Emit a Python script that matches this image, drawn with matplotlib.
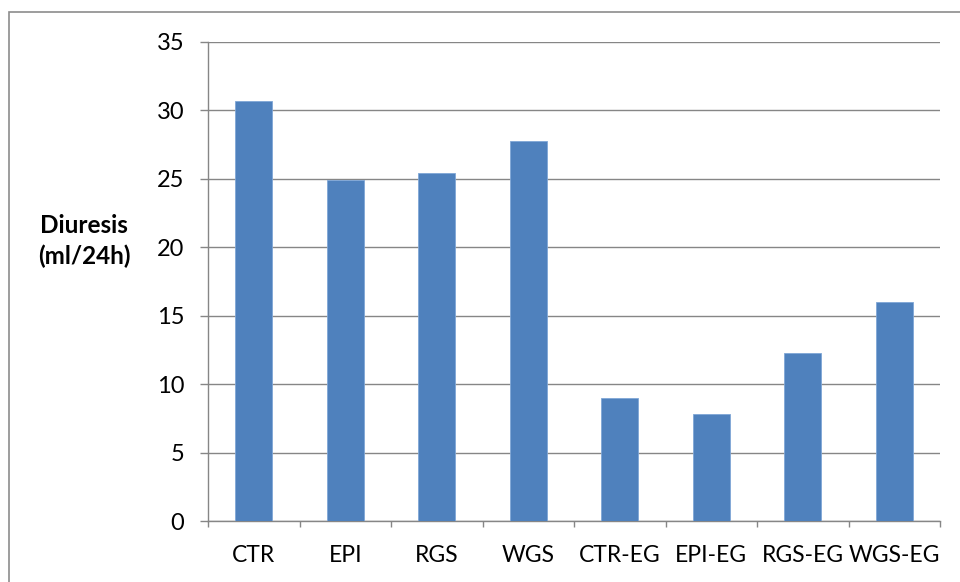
import matplotlib
matplotlib.use("Agg")
import matplotlib.pyplot as plt
from matplotlib.patches import Rectangle

categories = ["CTR", "EPI", "RGS", "WGS", "CTR-EG", "EPI-EG", "RGS-EG", "WGS-EG"]
values = [30.7, 24.9, 25.4, 27.8, 9.0, 7.8, 12.3, 16.0]
yticks = [0, 5, 10, 15, 20, 25, 30, 35]

plt.rcParams['font.family'] = ['Lato', 'DejaVu Sans']

W, H = 960, 582
fig = plt.figure(figsize=(W/100, H/100), dpi=100)
ax = fig.add_axes([208/W, 1-521/H, (940-208)/W, (521-42)/H])

grid_c = "#868686"
x = list(range(len(categories)))
ax.bar(x, values, width=0.4, color="#4F81BD", edgecolor="#7FA6D6", linewidth=0.6, zorder=3)
ax.set_xlim(-0.5, len(categories)-0.5)
ax.set_ylim(0, 35)
ax.set_yticks(yticks)
ax.set_yticklabels([str(t) for t in yticks], fontsize=17)
ax.yaxis.grid(True, color=grid_c, linewidth=1.0, zorder=0)
ax.set_xticks([i - 0.5 for i in range(len(categories)+1)])
ax.set_xticklabels([])
ax.set_xticks(x, minor=True)
ax.set_xticklabels(categories, minor=True, fontsize=16.5)
ax.tick_params(axis='x', which='minor', length=0, pad=17)
ax.tick_params(axis='x', which='major', length=4.5, color=grid_c, width=1.0)
ax.tick_params(axis='y', length=6, color=grid_c, width=1.0, pad=11)
for s in ['top', 'right']:
    ax.spines[s].set_visible(False)
for s in ['left', 'bottom']:
    ax.spines[s].set_color(grid_c)
    ax.spines[s].set_linewidth(1.0)

fig.text(84/W, 1-241/H, "Diuresis\n(ml/24h)", fontsize=17.5, fontweight='bold',
         ha='center', va='center', linespacing=1.35)

fig.patches.append(Rectangle((9/W, -0.1), 1.2, 1 - 12/H + 0.1, transform=fig.transFigure,
                             fill=False, edgecolor="#8c8c8c", linewidth=1.2))

fig.savefig("out.png", dpi=100)
